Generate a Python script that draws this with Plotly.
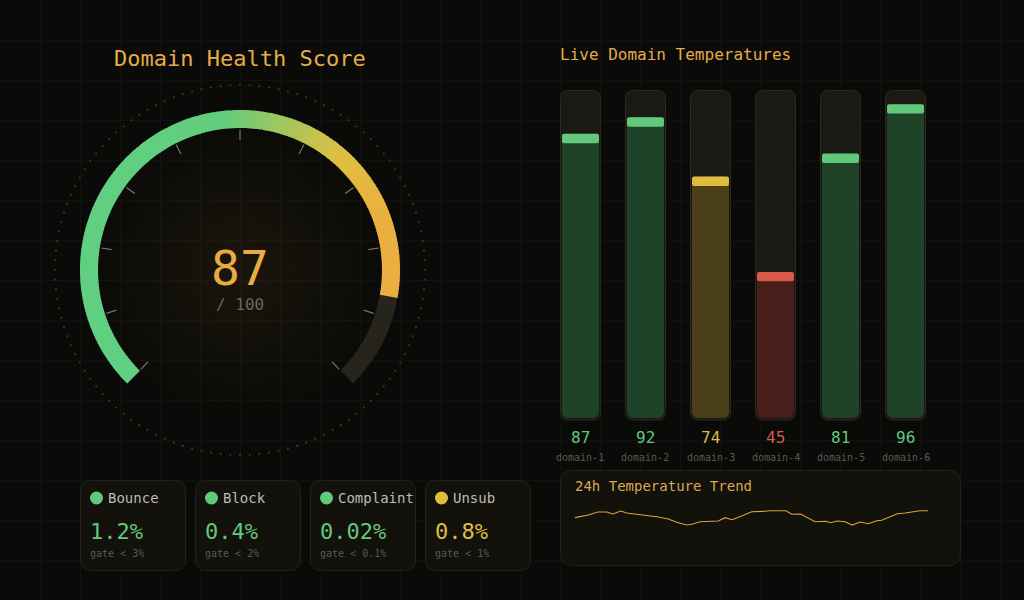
import math
import plotly.graph_objects as go

# Chart data
gauge_score = 87
gauge_max = 100

domains = ['domain-1', 'domain-2', 'domain-3', 'domain-4', 'domain-5', 'domain-6']
temps = [87, 92, 74, 45, 81, 96]

metric_names = ['Bounce', 'Block', 'Complaint', 'Unsub']
metric_values = ['1.2%', '0.4%', '0.02%', '0.8%']
metric_gates = ['gate < 3%', 'gate < 2%', 'gate < 0.1%', 'gate < 1%']
metric_status = ['ok', 'ok', 'ok', 'warn']

trend_hours = [0, 0.9, 1.56, 2.16, 2.58, 3.11, 3.51, 4.08, 5.1, 5.66, 6.34, 6.91, 7.59, 7.93,
               8.5, 9.18, 9.74, 10.2, 10.69, 11.33, 12.01, 12.92, 13.26, 14.35, 14.73, 15.34,
               15.86, 16.32, 17.04, 17.38, 17.83, 18.36, 18.85, 19.38, 19.94, 20.51, 20.85,
               21.91, 22.44, 23.01, 23.46, 24]
trend_temps = [83.1, 86.7, 90.7, 90.7, 88, 92, 89.3, 88, 85.3, 84, 81.3, 76.9, 73.3, 74.3,
               77.7, 77.7, 78.7, 83.1, 80.4, 85.3, 91.1, 91.6, 92.4, 92.4, 87.6, 88,
               82.3, 77.7, 78.3, 76.4, 78.7, 77.7, 73.3, 77.3, 75.1, 79.1, 79.6,
               88.4, 89.3, 91.1, 92.4, 92.4]

# Colours
BG = '#0a0a08'
GRID = '#11110e'
AMBER = '#e5ac48'
GREEN = '#62c87c'
YELLOW = '#dfbd40'
RED = '#d85a4a'
CARD = '#12110c'
CARD_EDGE = '#23221b'
TRACK = '#1b1914'
TRACK_EDGE = '#2a2820'
FONT = 'DejaVu Sans Mono'
W, H = 1024, 600

STATUS = {'ok': GREEN, 'warn': YELLOW, 'bad': RED}
FILLS = {GREEN: '#1f4329', YELLOW: '#4a3f16', RED: '#471e1a'}


def temp_color(t):
    if t >= 80:
        return GREEN
    if t >= 60:
        return YELLOW
    return RED


def rounded_rect(x0, y0, x1, y1, r):
    return (f'M {x0 + r} {y0} L {x1 - r} {y0} Q {x1} {y0} {x1} {y0 + r} '
            f'L {x1} {y1 - r} Q {x1} {y1} {x1 - r} {y1} '
            f'L {x0 + r} {y1} Q {x0} {y1} {x0} {y1 - r} '
            f'L {x0} {y0 + r} Q {x0} {y0} {x0 + r} {y0} Z')


def mix(c1, c2, f):
    a = [int(c1[i:i + 2], 16) for i in (1, 3, 5)]
    b = [int(c2[i:i + 2], 16) for i in (1, 3, 5)]
    return 'rgb(%d,%d,%d)' % tuple(a[i] + (b[i] - a[i]) * f for i in range(3))


def arc_color(theta):
    # gauge gradient runs left to right across the arc
    t = 0.5 + 0.5 * math.sin(math.radians(theta))
    if t < 0.45:
        return mix('#60d082', '#64cd7e', t / 0.45)
    if t < 0.84:
        return mix('#64cd7e', '#e0c040', (t - 0.45) / 0.39)
    return mix('#e0c040', '#ecae40', (t - 0.84) / 0.16)


fig = go.Figure()

# centre glow, on the page axes
fig.add_trace(go.Scatter(
    x=[240], y=[270], mode='markers', hoverinfo='skip',
    marker=dict(size=300, color='rgba(232,168,64,0)', line_width=0,
                gradient=dict(type='radial', color='rgba(232,168,64,0.075)')),
))

# Gauge
START, SWEEP = -135, 270
end_theta = START + SWEEP * gauge_score / gauge_max
step = 1.5
n = int((end_theta - START) / step)
step = (end_theta - START) / n
arc_thetas = [START + step * (i + 0.5) for i in range(n)]

fig.add_trace(go.Barpolar(
    theta=[(end_theta + START + SWEEP) / 2], r=[18], base=[142], width=[START + SWEEP - end_theta],
    marker=dict(color='#26241b', line_width=0), hoverinfo='skip', subplot='polar',
))
fig.add_trace(go.Barpolar(
    theta=arc_thetas, r=[18] * n, base=[142] * n, width=[step * 1.25] * n,
    marker=dict(color=[arc_color(t) for t in arc_thetas], line_width=0),
    hoverinfo='skip', subplot='polar',
))

tick_t, tick_r = [], []
for i in range(11):
    tick_t += [START + SWEEP * i / 10] * 2 + [None]
    tick_r += [130, 140.5, None]
fig.add_trace(go.Scatterpolar(
    theta=tick_t, r=tick_r, mode='lines', line=dict(color='#77776f', width=1.2),
    hoverinfo='skip', subplot='polar',
))
ring_t = list(range(0, 360, 3))
fig.add_trace(go.Scatterpolar(
    theta=ring_t, r=[185] * len(ring_t), mode='markers',
    marker=dict(size=2.2, color='#43361c', line_width=0), hoverinfo='skip', subplot='polar',
))

# Temperature bars: fill hangs down from the value so the rounded end is at the bottom
bar_colors = [temp_color(t) for t in temps]
fig.add_trace(go.Bar(
    x=domains, y=[0.6 - t for t in temps], base=temps, width=37 / 65,
    marker=dict(color=[FILLS[c] for c in bar_colors], line_width=0, cornerradius=6),
    xaxis='x2', yaxis='y2', hoverinfo='skip',
))
# value cap: rounded top half, rounded bottom half, square core over the join
fig.add_trace(go.Bar(
    x=domains, y=[1.5] * len(temps), base=[t - 1.5 for t in temps], width=37 / 65,
    marker=dict(color=bar_colors, line_width=0, cornerradius=4.5),
    xaxis='x2', yaxis='y2', hoverinfo='skip',
))
fig.add_trace(go.Bar(
    x=domains, y=[-1.5] * len(temps), base=[t - 1.35 for t in temps], width=37 / 65,
    marker=dict(color=bar_colors, line_width=0, cornerradius=4.5),
    xaxis='x2', yaxis='y2', hoverinfo='skip',
))
fig.add_trace(go.Bar(
    x=domains, y=[1.3] * len(temps), base=[t - 2.07 for t in temps], width=37 / 65,
    marker=dict(color=bar_colors, line_width=0),
    xaxis='x2', yaxis='y2', hoverinfo='skip',
))

# Trend line
fig.add_trace(go.Scatter(
    x=trend_hours, y=trend_temps, mode='lines', line=dict(color='#e0a03c', width=1.1),
    xaxis='x3', yaxis='y3', hoverinfo='skip',
))

# Status dots on the cards
card_x = [80 + 115 * i for i in range(len(metric_names))]
fig.add_trace(go.Scatter(
    x=[x + 16.5 for x in card_x], y=[498] * len(card_x), mode='markers', hoverinfo='skip',
    marker=dict(size=13, color=[STATUS[s] for s in metric_status], line_width=0),
))

shapes = []
for i in range(len(domains)):
    x0 = 560.5 + 65 * i
    shapes.append(dict(type='path', path=rounded_rect(x0, 90.5, x0 + 40, 420, 8),
                       fillcolor=TRACK, line=dict(color=TRACK_EDGE, width=1), layer='between'))
for x in card_x:
    shapes.append(dict(type='path', path=rounded_rect(x + 0.5, 480.5, x + 105.5, 570.5, 11),
                       fillcolor=CARD, line=dict(color=CARD_EDGE, width=1), layer='between'))
shapes.append(dict(type='path', path=rounded_rect(560.5, 470.5, 960.5, 565.5, 12),
                   fillcolor=CARD, line=dict(color=CARD_EDGE, width=1), layer='between'))


def label(x, y, text, size, color, anchor='left', xref='x'):
    return dict(x=x, y=y, xref=xref, yref='y', text=text, showarrow=False, xanchor=anchor,
                yanchor='middle', borderpad=0,
                font=dict(family=FONT, size=size, color=color))


annotations = [
    label(240, 58, 'Domain Health Score', 22, AMBER, 'center'),
    label(559, 54, 'Live Domain Temperatures', 16, AMBER),
    label(240, 268, str(gauge_score), 48, '#e8ac40', 'center'),
    label(240, 304, '/ ' + str(gauge_max), 16, '#666660', 'center'),
    label(574, 486, '24h Temperature Trend', 14, '#dca850'),
]
for i, d in enumerate(domains):
    annotations.append(label(d, 437, str(temps[i]), 16, bar_colors[i], 'center', 'x2'))
    annotations.append(label(d, 457, d, 10, '#5a5a52', 'center', 'x2'))
for i, x in enumerate(card_x):
    annotations.append(label(x + 27, 498, metric_names[i], 14, '#bbbbb5'))
    annotations.append(label(x + 9, 531, metric_values[i], 22, STATUS[metric_status[i]]))
    annotations.append(label(x + 9, 553, metric_gates[i], 10, '#5a5a52'))

hidden = dict(visible=False, fixedrange=True)
fig.update_layout(
    width=W, height=H, margin=dict(l=0, r=0, t=0, b=0),
    paper_bgcolor=BG, plot_bgcolor='rgba(0,0,0,0)', showlegend=False, barmode='overlay',
    xaxis=dict(range=[0, W], dtick=40, showgrid=True, gridcolor=GRID, gridwidth=1, zeroline=False,
               showticklabels=False, ticks='', fixedrange=True),
    yaxis=dict(range=[H, 0], dtick=40, showgrid=True, gridcolor=GRID, gridwidth=1, zeroline=False,
               showticklabels=False, ticks='', fixedrange=True),
    xaxis2=dict(domain=[560 / W, 926 / W], range=[-0.315, 5.315], anchor='y2', type='category',
                categoryorder='array', categoryarray=domains, **hidden),
    yaxis2=dict(domain=[1 - 420 / H, 1 - 91 / H], range=[0, 100], anchor='x2', **hidden),
    xaxis3=dict(domain=[575 / W, 928 / W], range=[0, 24], anchor='y3', **hidden),
    yaxis3=dict(domain=[1 - 535 / H, 1 - 505 / H], range=[60, 100], anchor='x3', **hidden),
    polar=dict(
        domain=dict(x=[50 / W, 430 / W], y=[1 - 460 / H, 1 - 80 / H]),
        bgcolor='rgba(0,0,0,0)',
        radialaxis=dict(range=[0, 190], visible=False),
        angularaxis=dict(direction='clockwise', rotation=90, thetaunit='degrees', visible=False),
    ),
    shapes=shapes, annotations=annotations,
)

post = "document.body.style.margin='0';document.body.style.background='%s';" % BG
fig.write_html('out.html', config={'displayModeBar': False}, post_script=post)
